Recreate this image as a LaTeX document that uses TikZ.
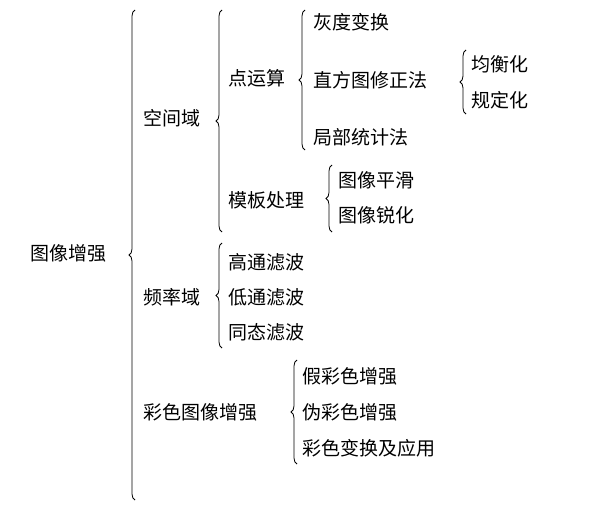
\documentclass[tikz,border=0pt]{standalone}
\usepackage{fontspec}
\newfontfamily\cjk{Noto Sans CJK SC}
\usetikzlibrary{decorations.pathreplacing}
\begin{document}
\begin{tikzpicture}[x=1pt,y=-1pt,
  lbl/.style={anchor=west,inner sep=0pt,font=\cjk\fontsize{19}{19}\selectfont},
  br/.style={decorate,decoration={brace,amplitude=6pt},line width=0.8pt}]
\useasboundingbox (0,0) rectangle (608,519);
\node[lbl] (root) at (30,253) {图像增强};
\draw[br] (135,500) -- (135,10);
\node[lbl] (kj) at (143,118) {空间域};
\draw[br] (222,232) -- (222,10);
\node[lbl] (dys) at (228,78) {点运算};
\draw[br] (305,150) -- (305,10);
\node[lbl] (hd) at (313,22) {灰度变换};
\node[lbl] (zf) at (313,80) {直方图修正法};
\node[lbl] (jb) at (313,137) {局部统计法};
\draw[br] (466,114) -- (466,50);
\node[lbl] (jh) at (471,64) {均衡化};
\node[lbl] (gd) at (471,100) {规定化};
\node[lbl] (mb) at (228,200) {模板处理};
\draw[br] (332,232) -- (332,165);
\node[lbl] (ph) at (338,180) {图像平滑};
\node[lbl] (rh) at (338,215) {图像锐化};
\node[lbl] (pl) at (143,297) {频率域};
\draw[br] (222,348) -- (222,243);
\node[lbl] (gt) at (228,262) {高通滤波};
\node[lbl] (dt) at (228,297) {低通滤波};
\node[lbl] (tt) at (228,332) {同态滤波};
\node[lbl] (cs) at (143,412) {彩色图像增强};
\draw[br] (297,464) -- (297,360);
\node[lbl] (jc) at (302,376) {假彩色增强};
\node[lbl] (wc) at (302,412) {伪彩色增强};
\node[lbl] (cb) at (302,448) {彩色变换及应用};
\end{tikzpicture}
\end{document}
